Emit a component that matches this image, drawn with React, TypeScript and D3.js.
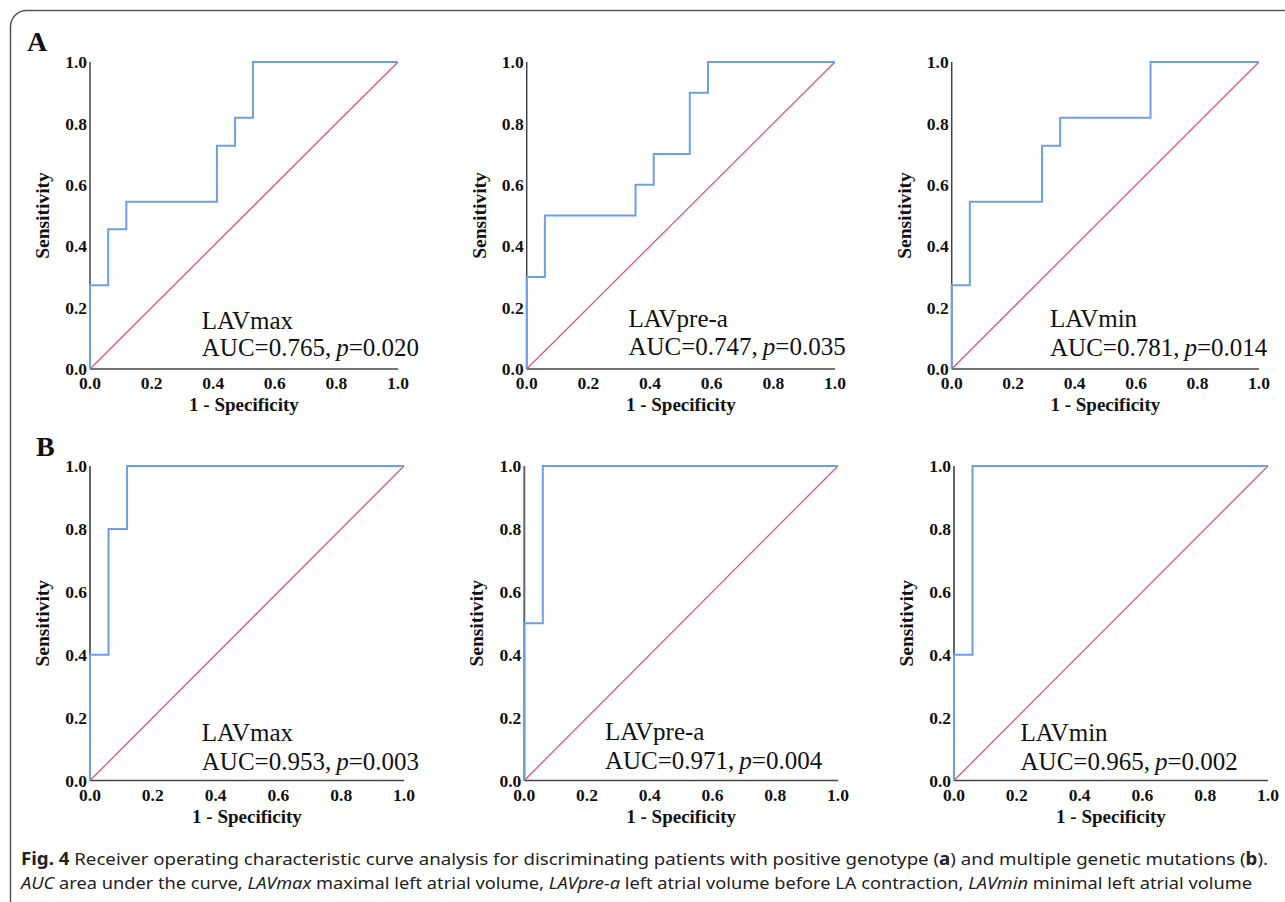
import React, { useEffect } from "react";
import * as d3 from "d3";

// ---------- data ----------
const xTicks = [0, 0.2, 0.4, 0.6, 0.8, 1.0];
const yTicks = [0, 0.2, 0.4, 0.6, 0.8, 1.0];

const names = ["LAVmax", "LAVpre-a", "LAVmin", "LAVmax", "LAVpre-a", "LAVmin"];
const aucs = ["0.765", "0.747", "0.781", "0.953", "0.971", "0.965"];
const pvals = ["0.020", "0.035", "0.014", "0.003", "0.004", "0.002"];

const fprA1 = [0, 0, 0.059, 0.118, 0.412, 0.471, 0.529, 1.0];
const tprA1 = [0, 0.273, 0.455, 0.545, 0.727, 0.818, 1.0, 1.0];
const fprA2 = [0, 0, 0.059, 0.353, 0.412, 0.529, 0.588, 1.0];
const tprA2 = [0, 0.3, 0.5, 0.6, 0.7, 0.9, 1.0, 1.0];
const fprA3 = [0, 0, 0.059, 0.294, 0.353, 0.647, 1.0];
const tprA3 = [0, 0.273, 0.545, 0.727, 0.818, 1.0, 1.0];
const fprB1 = [0, 0, 0.059, 0.118, 1.0];
const tprB1 = [0, 0.4, 0.8, 1.0, 1.0];
const fprB2 = [0, 0, 0.059, 1.0];
const tprB2 = [0, 0.5, 1.0, 1.0];
const fprB3 = [0, 0, 0.059, 1.0];
const tprB3 = [0, 0.4, 1.0, 1.0];

const fprs = [fprA1, fprA2, fprA3, fprB1, fprB2, fprB3];
const tprs = [tprA1, tprA2, tprA3, tprB1, tprB2, tprB3];

// ---------- layout ----------
const W = 1285;
const H = 902;
const panels = [
  { x0: 90, x1: 398, yT: 62, yB: 369, lx: 0.363, b1: 328.5, b2: 356 },
  { x0: 526.7, x1: 835, yT: 62, yB: 369, lx: 0.33, b1: 327, b2: 355 },
  { x0: 951.7, x1: 1259, yT: 62, yB: 369, lx: 0.32, b1: 327, b2: 356 },
  { x0: 90, x1: 404, yT: 466, yB: 780.5, lx: 0.356, b1: 740.5, b2: 770 },
  { x0: 524.3, x1: 838, yT: 466, yB: 780.5, lx: 0.257, b1: 740, b2: 768.5 },
  { x0: 954, x1: 1268, yT: 466, yB: 780.5, lx: 0.212, b1: 740.5, b2: 770 },
];

const SERIF = "'Liberation Serif', 'Times New Roman', serif";
const SANS = "'Noto Sans', 'Open Sans', sans-serif";

function Panel({ i }: { i: number }) {
  const p = panels[i];
  const x = d3.scaleLinear().domain([0, 1]).range([p.x0, p.x1]);
  const y = d3.scaleLinear().domain([0, 1]).range([p.yB, p.yT]);
  const pts: [number, number][] = fprs[i].map((f, k) => [f, tprs[i][k]]);
  const roc = d3
    .line<[number, number]>()
    .x((d) => x(d[0]))
    .y((d) => y(d[1]))
    .curve(d3.curveStepAfter)(pts);
  const diag = d3
    .line<number>()
    .x((d) => x(d))
    .y((d) => y(d))([0, 1]);
  const fmt = d3.format(".1f");
  const isB = i >= 3;
  const tx = x(p.lx);
  return (
    <g>
      <path d={diag || ""} fill="none" stroke="#e0557c" strokeWidth={1.3} />
      <line x1={p.x0} x2={p.x0} y1={p.yT} y2={p.yB} stroke={isB ? "#666" : "#444"} strokeWidth={isB ? 2 : 1.5} />
      <line x1={p.x0} x2={p.x1} y1={p.yB} y2={p.yB} stroke="#444" strokeWidth={1.5} />
      <path d={roc || ""} fill="none" stroke="#6c9fe6" strokeWidth={2} />
      {yTicks.map((t) => (
        <text key={"y" + t} x={p.x0 - 3} y={y(t)} dy="0.35em" textAnchor="end" fontFamily={SERIF} fontWeight="bold" fontSize={17.5} fill="#111">
          {fmt(t)}
        </text>
      ))}
      {xTicks.map((t) => (
        <text key={"x" + t} x={x(t)} y={p.yB + 20} textAnchor="middle" fontFamily={SERIF} fontWeight="bold" fontSize={17.5} fill="#111">
          {fmt(t)}
        </text>
      ))}
      <text x={(p.x0 + p.x1) / 2} y={p.yB + 42} textAnchor="middle" fontFamily={SERIF} fontWeight="bold" fontSize={19} fill="#111">
        1 - Specificity
      </text>
      <text
        transform={`translate(${p.x0 - 41},${(p.yT + p.yB) / 2}) rotate(-90)`}
        textAnchor="middle"
        fontFamily={SERIF}
        fontWeight="bold"
        fontSize={19.5}
        fill="#111"
      >
        Sensitivity
      </text>
      <text x={tx} y={p.b1} fontFamily={SERIF} fontSize={25} fill="#111">
        {names[i]}
      </text>
      <text x={tx} y={p.b2} fontFamily={SERIF} fontSize={25} fill="#111">
        {"AUC=" + aucs[i] + ",\u2009"}
        <tspan fontStyle="italic">p</tspan>
        {"=" + pvals[i]}
      </text>
    </g>
  );
}

export default function App() {
  useEffect(() => {
    document.body.style.margin = "0";
  }, []);
  return (
    <svg width={W} height={H} style={{ display: "block", position: "absolute", left: 0, top: 0 }} xmlns="http://www.w3.org/2000/svg">
      <rect x={0} y={0} width={W} height={H} fill="#fff" />
      <rect x={10.5} y={10.5} width={1400} height={1000} rx={16} ry={16} fill="none" stroke="#555" strokeWidth={1.5} />
      <text x={27} y={51} fontFamily={SERIF} fontWeight="bold" fontSize={28} fill="#111">A</text>
      <text x={36} y={456} fontFamily={SERIF} fontWeight="bold" fontSize={28} fill="#111">B</text>
      {panels.map((_, i) => (
        <Panel key={i} i={i} />
      ))}
      <text x={21} y={865} fontFamily={SANS} fontSize={17} fill="#222" textLength={1247} lengthAdjust="spacingAndGlyphs">
        <tspan fontWeight="bold">Fig. 4</tspan>
        {"  Receiver operating characteristic curve analysis for discriminating patients with positive genotype ("}
        <tspan fontWeight="bold">a</tspan>
        {") and multiple genetic mutations ("}
        <tspan fontWeight="bold">b</tspan>
        {")."}
      </text>
      <text x={21} y={889} fontFamily={SANS} fontSize={17} fill="#222" textLength={1231} lengthAdjust="spacingAndGlyphs">
        <tspan fontStyle="italic">AUC</tspan>
        {" area under the curve, "}
        <tspan fontStyle="italic">LAVmax</tspan>
        {" maximal left atrial volume, "}
        <tspan fontStyle="italic">LAVpre-a</tspan>
        {" left atrial volume before LA contraction, "}
        <tspan fontStyle="italic">LAVmin</tspan>
        {" minimal left atrial volume"}
      </text>
    </svg>
  );
}
